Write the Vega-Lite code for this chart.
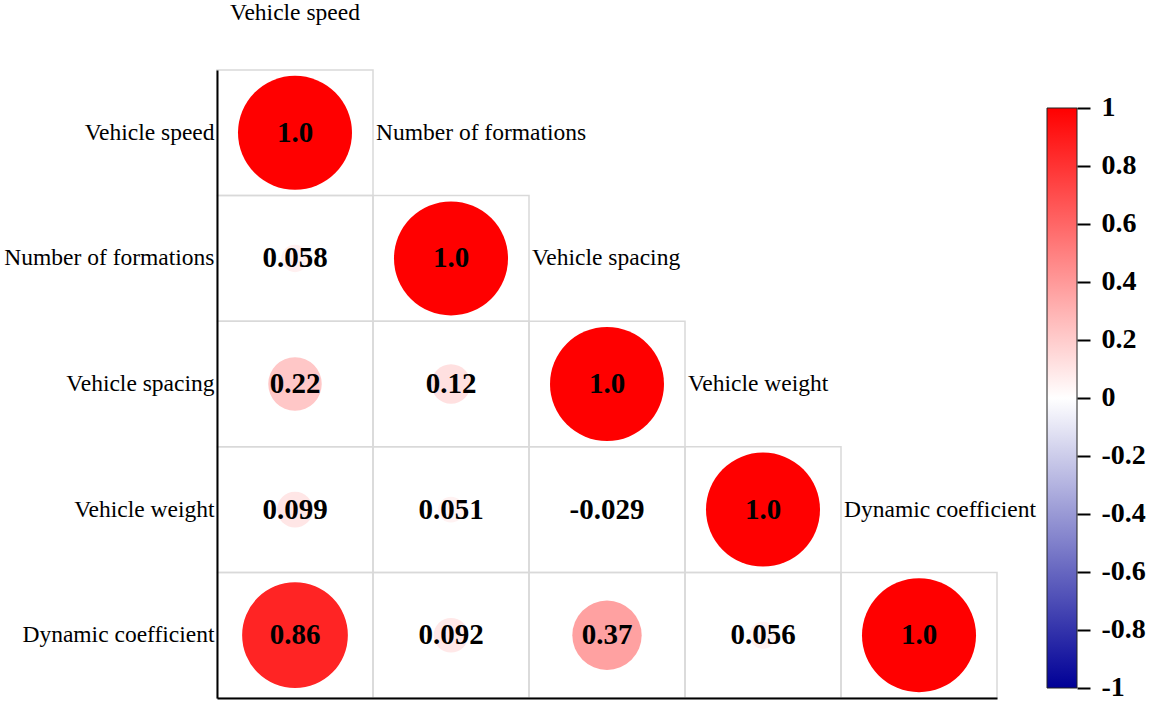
{
  "$schema": "https://vega.github.io/schema/vega-lite/v6.json",
  "width": 780,
  "height": 628,
  "autosize": "none",
  "padding": {"left": 217, "top": 70, "right": 153, "bottom": 6},
  "background": "white",
  "config": {"view": {"stroke": null}, "font": "Liberation Serif"},
  "datasets": {
    "cells": [
      {"row": "Vehicle speed", "col": "Vehicle speed", "r": 1.0, "label": "1.0"},
      {"row": "Number of formations", "col": "Vehicle speed", "r": 0.058, "label": "0.058"},
      {"row": "Number of formations", "col": "Number of formations", "r": 1.0, "label": "1.0"},
      {"row": "Vehicle spacing", "col": "Vehicle speed", "r": 0.22, "label": "0.22"},
      {"row": "Vehicle spacing", "col": "Number of formations", "r": 0.12, "label": "0.12"},
      {"row": "Vehicle spacing", "col": "Vehicle spacing", "r": 1.0, "label": "1.0"},
      {"row": "Vehicle weight", "col": "Vehicle speed", "r": 0.099, "label": "0.099"},
      {"row": "Vehicle weight", "col": "Number of formations", "r": 0.051, "label": "0.051"},
      {"row": "Vehicle weight", "col": "Vehicle spacing", "r": -0.029, "label": "-0.029"},
      {"row": "Vehicle weight", "col": "Vehicle weight", "r": 1.0, "label": "1.0"},
      {"row": "Dynamic coefficient", "col": "Vehicle speed", "r": 0.86, "label": "0.86"},
      {"row": "Dynamic coefficient", "col": "Number of formations", "r": 0.092, "label": "0.092"},
      {"row": "Dynamic coefficient", "col": "Vehicle spacing", "r": 0.37, "label": "0.37"},
      {"row": "Dynamic coefficient", "col": "Vehicle weight", "r": 0.056, "label": "0.056"},
      {"row": "Dynamic coefficient", "col": "Dynamic coefficient", "r": 1.0, "label": "1.0"}
    ],
    "collabels": [
      {"row": "Vehicle speed", "col": "Number of formations"},
      {"row": "Number of formations", "col": "Vehicle spacing"},
      {"row": "Vehicle spacing", "col": "Vehicle weight"},
      {"row": "Vehicle weight", "col": "Dynamic coefficient"}
    ]
  },
  "layer": [
    {
      "data": {"name": "cells"},
      "mark": {"type": "rect", "filled": false, "stroke": "#d9d9d9", "strokeWidth": 1.5},
      "encoding": {
        "x": {
          "field": "col", "type": "nominal",
          "scale": {"domain": ["Vehicle speed", "Number of formations", "Vehicle spacing", "Vehicle weight", "Dynamic coefficient"], "paddingInner": 0, "paddingOuter": 0},
          "axis": {"orient": "top", "domain": false, "ticks": false, "labelExpr": "datum.value == 'Vehicle speed' ? datum.label : ''", "labelFontSize": 23.5, "labelPadding": 46, "labelColor": "black", "title": null, "labelFont": "Liberation Serif", "labelAngle": 0, "labelLimit": 400, "labelOverlap": false}
        },
        "y": {
          "field": "row", "type": "nominal",
          "scale": {"domain": ["Vehicle speed", "Number of formations", "Vehicle spacing", "Vehicle weight", "Dynamic coefficient"], "paddingInner": 0, "paddingOuter": 0},
          "axis": {"orient": "left", "domain": true, "domainColor": "black", "domainWidth": 2, "ticks": false, "labelFontSize": 23.5, "labelPadding": 3, "labelColor": "black", "title": null, "zindex": 1, "labelLimit": 400, "labelFont": "Liberation Serif"}
        }
      }
    },
    {
      "data": {"name": "cells"},
      "mark": {"type": "circle", "opacity": 1},
      "encoding": {
        "x": {"field": "col", "type": "nominal", "axis": {"orient": "bottom", "labels": false, "ticks": false, "domain": true, "domainColor": "black", "domainWidth": 2, "title": null, "zindex": 1}},
        "y": {
          "field": "row", "type": "nominal",
          "scale": {"domain": ["Vehicle speed", "Number of formations", "Vehicle spacing", "Vehicle weight", "Dynamic coefficient"], "paddingInner": 0, "paddingOuter": 0},
          "axis": null
        },
        "color": {
          "field": "r", "type": "quantitative",
          "scale": {"domain": [-1, 0, 1], "range": ["#000096", "#ffffff", "#ff0000"], "interpolate": "rgb"},
          "legend": {"orient": "none", "legendX": 830, "legendY": 38, "direction": "vertical", "gradientLength": 580, "gradientThickness": 30, "gradientStrokeColor": "#222222", "gradientStrokeWidth": 1, "labelOpacity": 0, "labelExpr": "''", "labelFontSize": 1, "title": null, "padding": 0}
        },
        "size": {"field": "r", "type": "quantitative", "scale": {"type": "linear", "domain": [0, 1], "range": [0, 13000], "clamp": true}, "legend": null}
      }
    },
    {
      "data": {"name": "cells"},
      "mark": {"type": "text", "fontSize": 29, "fontWeight": "bold", "font": "Liberation Serif", "color": "black", "baseline": "middle", "align": "center"},
      "encoding": {
        "x": {"field": "col", "type": "nominal", "axis": null},
        "y": {
          "field": "row", "type": "nominal",
          "scale": {"domain": ["Vehicle speed", "Number of formations", "Vehicle spacing", "Vehicle weight", "Dynamic coefficient"], "paddingInner": 0, "paddingOuter": 0},
          "axis": null
        },
        "text": {"field": "label", "type": "nominal"}
      }
    },
    {
      "data": {"name": "collabels"},
      "mark": {"type": "text", "fontSize": 23.5, "font": "Liberation Serif", "color": "black", "baseline": "middle", "align": "left", "dx": 3},
      "encoding": {
        "x": {"field": "col", "type": "nominal", "bandPosition": 0, "axis": null},
        "y": {
          "field": "row", "type": "nominal",
          "scale": {"domain": ["Vehicle speed", "Number of formations", "Vehicle spacing", "Vehicle weight", "Dynamic coefficient"], "paddingInner": 0, "paddingOuter": 0},
          "axis": null
        },
        "text": {"field": "col", "type": "nominal"}
      }
    },
    {
      "data": {"name": "cells"},
      "mark": {"type": "tick", "opacity": 0},
      "encoding": {
        "x": {"field": "col", "type": "nominal", "axis": null},
        "y": {
          "field": "r", "type": "quantitative",
          "scale": {"domain": [-1.0345, 1.131], "nice": false, "zero": false},
          "axis": {"orient": "right", "offset": 80, "domain": false, "ticks": true, "tickSize": 13, "tickWidth": 2, "tickColor": "black", "tickOpacity": 1, "values": [1, 0.8, 0.6, 0.4, 0.2, 0, -0.2, -0.4, -0.6, -0.8, -1], "labelExpr": "'' + datum.value", "labelFont": "Liberation Serif", "labelFontSize": 28, "labelFontWeight": "bold", "labelColor": "black", "labelPadding": 11, "labelOverlap": false, "labelBaseline": "middle", "grid": false, "title": null, "zindex": 1}
        }
      }
    }
  ],
  "resolve": {"axis": {"x": "independent", "y": "independent"}, "scale": {"y": "independent"}}
}
